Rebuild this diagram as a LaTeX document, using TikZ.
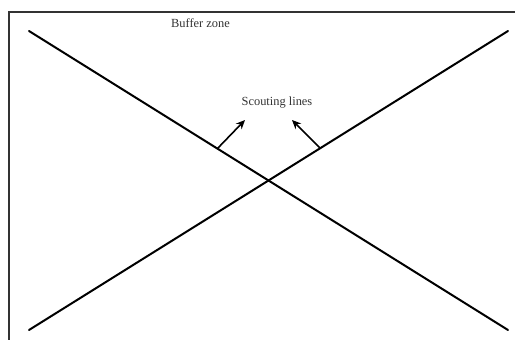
\documentclass[tikz,border=0pt]{standalone}
\usepackage{fontspec}
\setmainfont{Liberation Serif}
\usetikzlibrary{arrows.meta}
\tikzset{
  frame/.style={black!80,line width=1.8pt},
  scout/.style={black,line width=2pt,line cap=round},
  dir/.style={-{Stealth[length=9pt,width=8pt]},black,line width=1.6pt},
  lab/.style={font=\fontsize{12.4}{14}\selectfont,text=black!80,inner sep=0pt},
}
\begin{document}
\begin{tikzpicture}[x=1pt,y=-1pt]
\useasboundingbox (0,0) rectangle (515,340);
% ---- frame (open on the right and at the bottom) ----
\draw[frame] (9,340) -- (9,12) -- (515,12);
% ---- the two scouting lines ----
\coordinate (tl) at (29,31);
\coordinate (br) at (508,330);
\coordinate (bl) at (29,330);
\coordinate (tr) at (508,31);
\draw[scout] (tl) -- (br);
\draw[scout] (bl) -- (tr);
% ---- labels ----
\node[lab] (zone) at (200.5,23) {Buffer zone};
\node[lab] (lines) at (277,103) {Scouting lines};
% ---- arrows towards the label ----
\coordinate (la) at (217,149);
\coordinate (ra) at (320,148);
\coordinate (lt) at (245,120);
\coordinate (rt) at (292,120);
\draw[dir] (la) -- (lt);
\draw[dir] (ra) -- (rt);
\end{tikzpicture}
\end{document}
